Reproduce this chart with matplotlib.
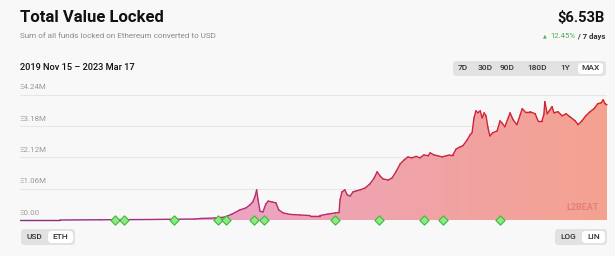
import numpy as np
import pandas as pd
import matplotlib
matplotlib.use("Agg")
import matplotlib.pyplot as plt
from matplotlib.collections import LineCollection
from matplotlib.colors import LinearSegmentedColormap
from matplotlib.patches import FancyBboxPatch, Polygon

plt.rcParams['font.family'] = ['Roboto', 'DejaVu Sans']

# ---------------- data ----------------
start_date = "2019-11-15"
end_date = "2023-03-17"
day_offset = [0, 83, 166, 270, 363, 374, 405, 425, 440, 456, 469, 477, 483, 488, 491, 494,
              498, 504, 510, 515, 523, 531, 537, 546, 560, 581, 602, 622, 639, 654, 662, 664,
              668, 674, 679, 685, 691, 697, 706, 716, 726, 735, 741, 747, 753, 764, 772, 780,
              789, 797, 805, 813, 822, 830, 838, 847, 851, 859, 867, 876, 884, 892, 898, 905,
              913, 919, 928, 934, 938, 942, 946, 950, 955, 959, 963, 967, 971, 975, 981, 990,
              996, 1000, 1006, 1013, 1017, 1023, 1031, 1038, 1042, 1048, 1058, 1069, 1075, 1083,
              1087, 1089, 1094, 1100, 1104, 1108, 1116, 1125, 1133, 1141, 1152, 1158, 1166,
              1174, 1183, 1191, 1199, 1206, 1210, 1214, 1218]
tvl_eth_m = [0.0, 0.0, 0.007, 0.017, 0.034, 0.051, 0.068, 0.10, 0.20, 0.34, 0.41, 0.51, 0.61,
             0.81, 1.02, 0.68, 0.30, 0.27, 0.54, 0.64, 0.61, 0.58, 0.34, 0.24, 0.19, 0.17, 0.15,
             0.15, 0.20, 0.24, 0.25, 0.68, 0.95, 1.02, 0.85, 0.81, 0.95, 0.98, 1.02, 1.08, 1.22,
             1.42, 1.63, 1.49, 1.39, 1.35, 1.42, 1.63, 1.90, 2.03, 2.13, 2.10, 2.15, 2.10, 2.20,
             2.17, 2.27, 2.20, 2.17, 2.13, 2.17, 2.20, 2.20, 2.40, 2.47, 2.51, 2.71, 2.88, 2.95,
             3.45, 3.69, 3.62, 3.69, 3.45, 3.62, 3.52, 3.12, 2.84, 2.95, 3.01, 3.35, 3.28, 3.15,
             3.45, 3.62, 3.39, 3.22, 3.56, 3.76, 3.66, 3.66, 3.59, 3.35, 3.35, 3.56, 4.00, 3.59,
             3.73, 3.83, 3.62, 3.66, 3.52, 3.59, 3.49, 3.35, 3.22, 3.35, 3.52, 3.66, 3.76, 3.93,
             3.96, 4.06, 3.93, 3.89]
milestone_days = [198, 216, 320, 410, 427, 485, 506, 654, 744, 839, 878, 996]
y_ticks = [0.0, 1.06, 2.12, 3.18, 4.24]
y_tick_labels = ["Ξ0.00", "Ξ1.06M", "Ξ2.12M", "Ξ3.18M", "Ξ4.24M"]
range_buttons = ["7D", "30D", "90D", "180D", "1Y", "MAX"]

t0 = pd.Timestamp(start_date)
dates = t0 + pd.to_timedelta(day_offset, unit="D")
x = matplotlib.dates.date2num(dates)
y = np.array(tvl_eth_m)
x_m = matplotlib.dates.date2num(t0 + pd.to_timedelta(milestone_days, unit="D"))
x0 = matplotlib.dates.date2num(t0)
x1 = matplotlib.dates.date2num(pd.Timestamp(end_date))

# ---------------- figure ----------------
W, H = 615, 256
bg = "#f8f8f8"
fig = plt.figure(figsize=(W / 100, H / 100), dpi=100, facecolor=bg)

def fx(px):
    return px / W

def fy(py):
    return 1 - py / H

ax = fig.add_axes([fx(20), fy(220), fx(607) - fx(20), fy(94.5) - fy(220)])
ax.set_facecolor(bg)
ax.set_xlim(x0, x1)
ax.set_ylim(0, 4.24)
for s in ax.spines.values():
    s.set_visible(False)
ax.set_xticks([])
ax.set_yticks([])
for t in y_ticks:
    ax.axhline(t, color="#e6e6e6", lw=0.8, zorder=0)
for t, lab in zip(y_ticks, y_tick_labels):
    ax.annotate(lab, (x0, t), xytext=(0, 3), textcoords="offset points",
                fontsize=5.7, color="#9a9a9a", ha="left", va="bottom")

# gradient fill
fill_cmap = LinearSegmentedColormap.from_list(
    "fillg", ["#e4a8dc", "#eba4c6", "#f0a3a8", "#f4a290"])
line_cmap = LinearSegmentedColormap.from_list(
    "lineg", ["#8a2c86", "#b0307a", "#c8284a", "#d81f24"])
grad = np.linspace(0, 1, 256).reshape(1, -1)
im = ax.imshow(grad, extent=[x0, x1, 0, 4.24], aspect="auto", cmap=fill_cmap,
               origin="lower", zorder=1)
poly = Polygon(np.column_stack([np.r_[x[0], x, x[-1]], np.r_[0, y, 0]]),
               closed=True, transform=ax.transData, facecolor="none", edgecolor="none")
ax.add_patch(poly)
im.set_clip_path(poly)

# gradient line
pts = np.column_stack([x, y]).reshape(-1, 1, 2)
segs = np.concatenate([pts[:-1], pts[1:]], axis=1)
lc = LineCollection(segs, cmap=line_cmap, linewidth=1.0, zorder=3, capstyle="round")
lc.set_array((x[:-1] + x[1:]) / 2)
lc.set_clim(x0, x1)
lc.set_clip_on(False)
ax.add_collection(lc)

# milestones
ax.scatter(x_m, np.zeros(len(x_m)), marker="D", s=22, facecolor="#8ee886",
           edgecolor="#3fb83a", linewidth=0.8, zorder=5, clip_on=False)

# watermark
ax.text(0.985, 0.1, "L2BEAT", transform=ax.transAxes, ha="right", va="center",
        fontsize=6.5, color="#e27878", alpha=0.85, fontweight="bold", zorder=4)

# ---------------- header text ----------------
fig.text(fx(20), fy(18), "Total Value Locked", fontsize=12, fontweight="bold",
         color="#111111", ha="left", va="center")
fig.text(fx(20), fy(36), "Sum of all funds locked on Ethereum converted to USD",
         fontsize=5.9, color="#8a8a8a", ha="left", va="center")
fig.text(fx(20), fy(68), "2019 Nov 15 – 2023 Mar 17", fontsize=6.7, fontweight="medium",
         color="#111111", ha="left", va="center")
fig.text(fx(605), fy(18), "$6.53B", fontsize=10.5, fontweight="bold",
         color="#111111", ha="right", va="center")
t_days = fig.text(fx(605), fy(36), " / 7 days", fontsize=5.6, fontweight="bold",
                  color="#333333", ha="right", va="center")
fig.canvas.draw()
bb = t_days.get_window_extent()
fig.text(bb.x0 / W, fy(36), "12.45%", fontsize=5.6, color="#4caf50",
         ha="right", va="center")
fig.text(bb.x0 / W - 0.047, fy(36), "▲", fontsize=3.5, color="#4caf50",
         ha="right", va="center", family=['DejaVu Sans'])

def pill(x_left, x_right, y_top, y_bot, color):
    p = FancyBboxPatch((fx(x_left), fy(y_bot)), fx(x_right) - fx(x_left),
                       fy(y_top) - fy(y_bot),
                       boxstyle="round,pad=0,rounding_size=0.006",
                       transform=fig.transFigure, facecolor=color, edgecolor="none",
                       mutation_aspect=W / H)
    fig.add_artist(p)

# range buttons
pill(453, 606, 61, 76, "#e2e2e2")
pill(578, 603, 63, 74, "#ffffff")
btn_x = [463, 485, 507, 537, 565, 590]
for bx, lab in zip(btn_x, range_buttons):
    fig.text(fx(bx), fy(68.5), lab, fontsize=6, color="#333333", ha="center", va="center",
             fontweight="medium")

# USD / ETH toggle
pill(21, 75, 229, 245, "#e2e2e2")
pill(48, 73, 231, 243, "#ffffff")
fig.text(fx(34), fy(237), "USD", fontsize=6, color="#333333", ha="center", va="center",
         fontweight="medium")
fig.text(fx(60), fy(237), "ETH", fontsize=6, color="#333333", ha="center", va="center",
         fontweight="medium")

# LOG / LIN toggle
pill(555, 607, 229, 245, "#e2e2e2")
pill(582, 605, 231, 243, "#ffffff")
fig.text(fx(568), fy(237), "LOG", fontsize=6, color="#333333", ha="center", va="center",
         fontweight="medium")
fig.text(fx(593.5), fy(237), "LIN", fontsize=6, color="#333333", ha="center", va="center",
         fontweight="medium")

fig.savefig("out.png", dpi=100, facecolor=bg)
